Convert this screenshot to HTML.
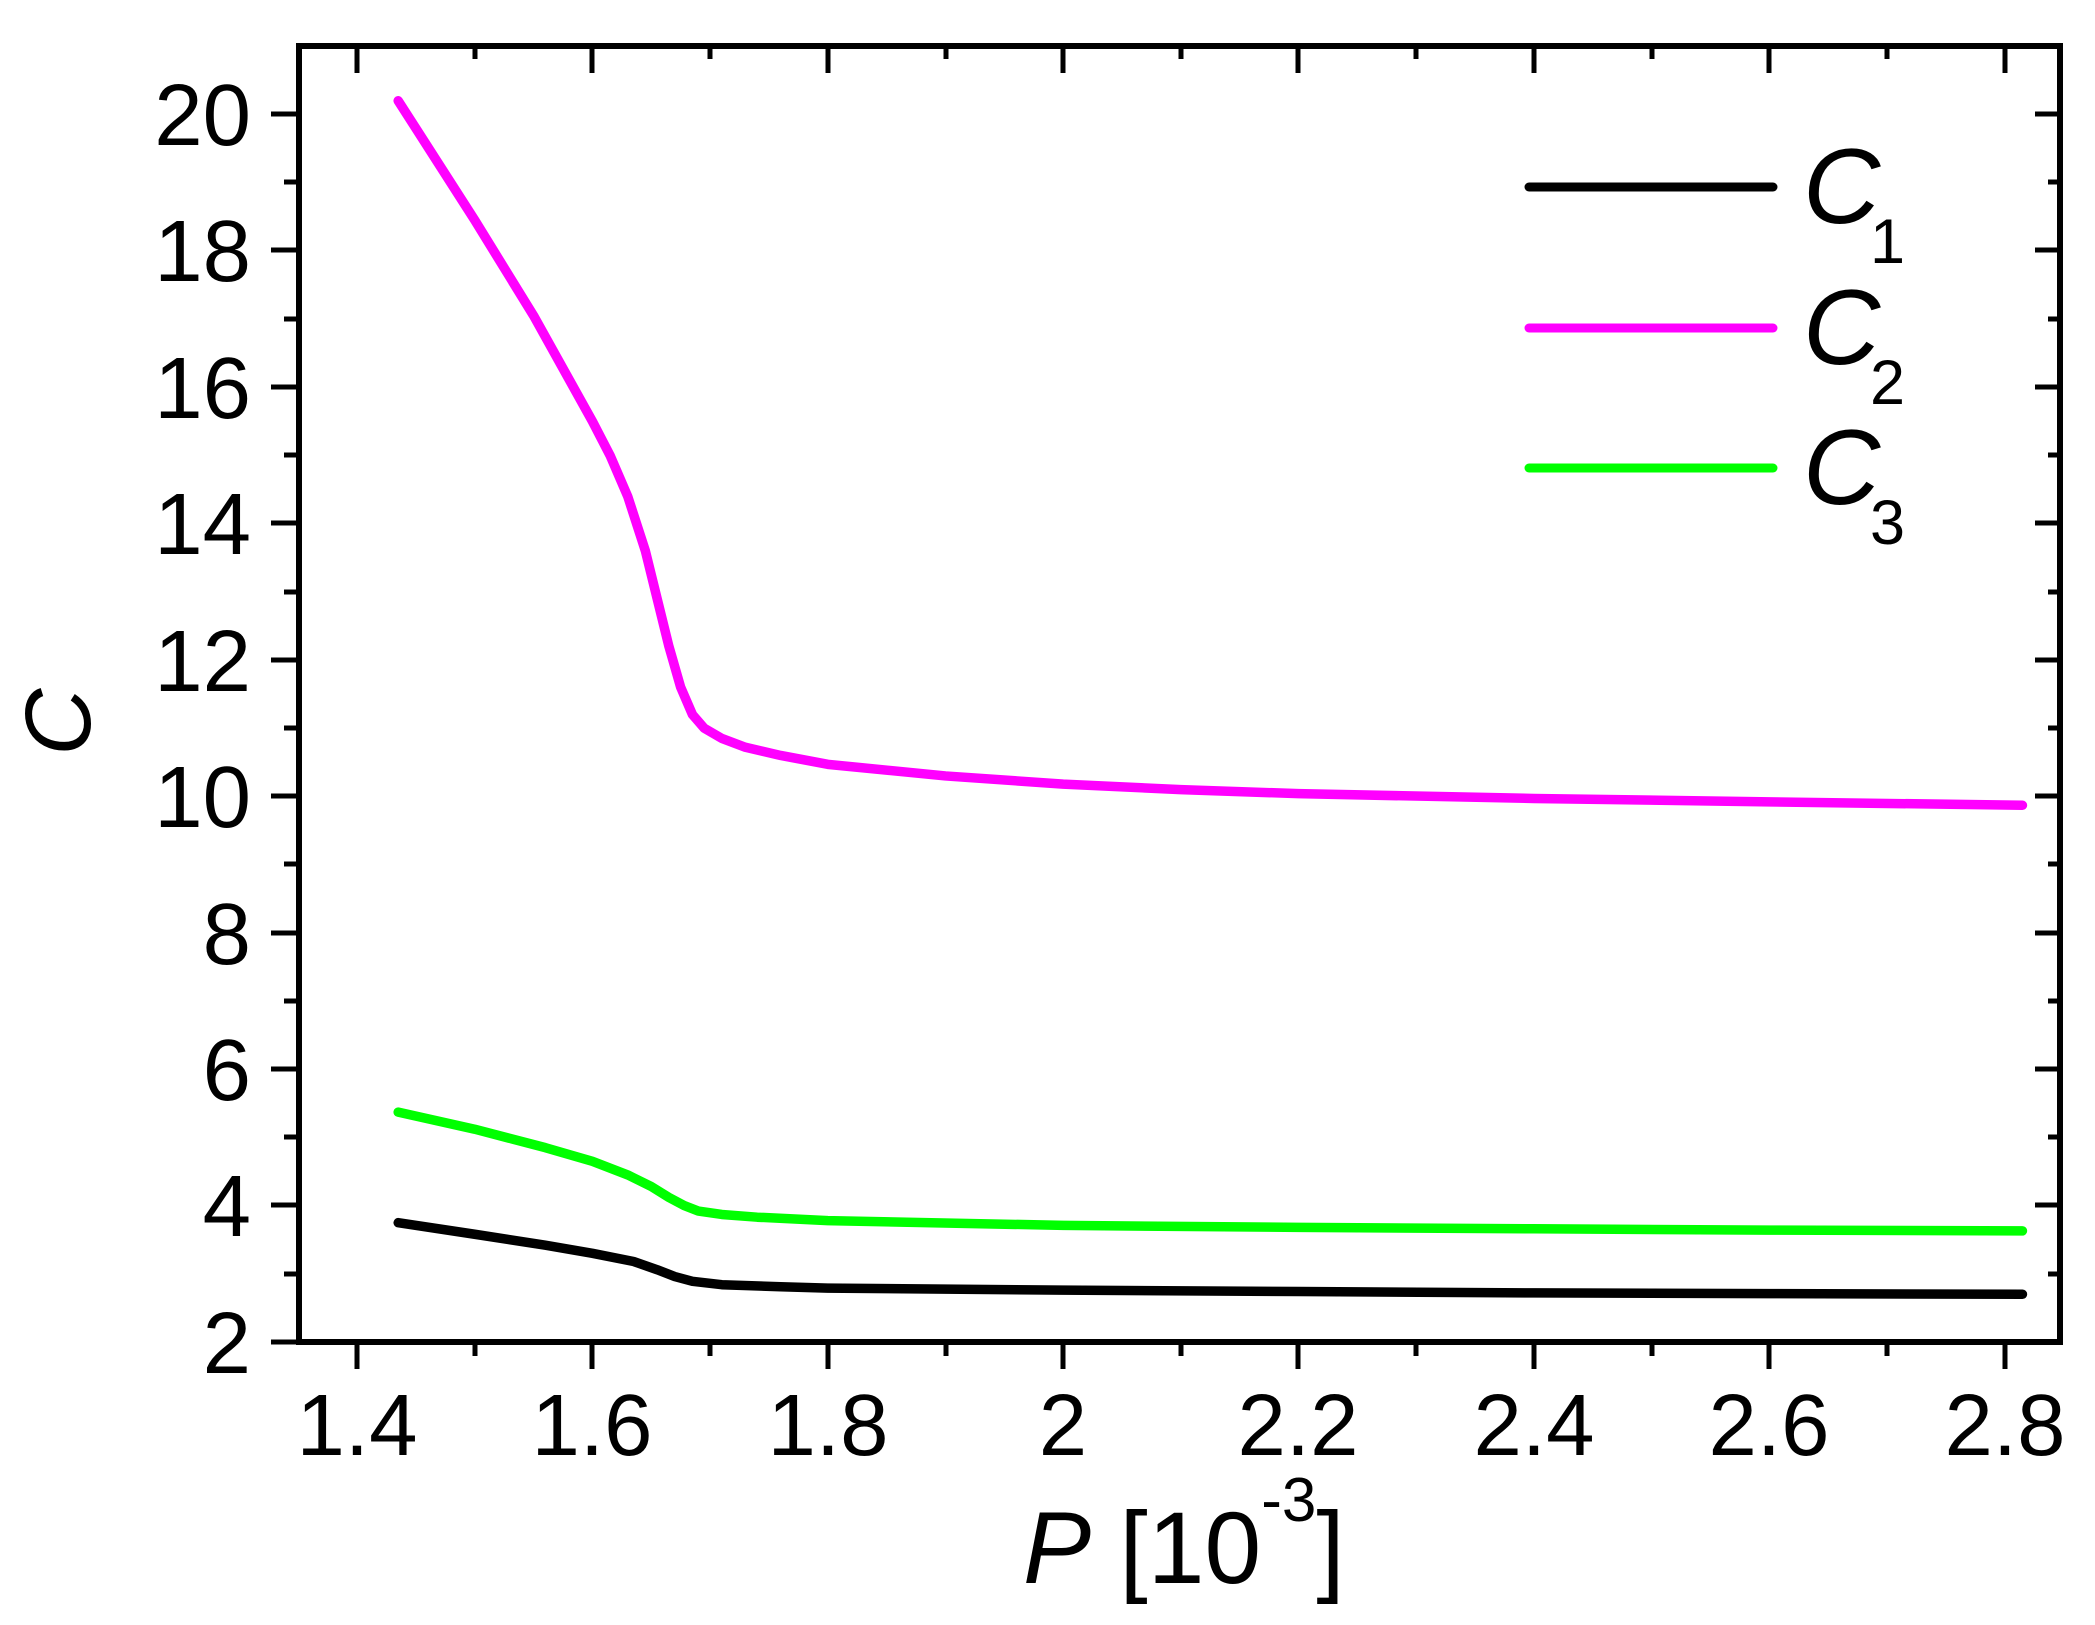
<!DOCTYPE html>
<html><head><meta charset="utf-8"><style>
html,body{margin:0;padding:0;background:#fff;}
svg{display:block;font-family:"Liberation Sans",Arial,sans-serif;}
</style></head><body>
<svg width="2095" height="1625" viewBox="0 0 2095 1625" xmlns="http://www.w3.org/2000/svg">
<rect width="2095" height="1625" fill="#fff"/>
<g transform="translate(357,1342) scale(1177,-68.2) translate(-1.4,-2)" fill="none" stroke-linejoin="round" stroke-linecap="round">
<polyline vector-effect="non-scaling-stroke" stroke="#ff00ff" stroke-width="9.5" points="1.435,20.2 1.5,18.45 1.55,17.05 1.6,15.5 1.615,15.0 1.63,14.4 1.645,13.6 1.655,12.9 1.665,12.2 1.675,11.6 1.685,11.2 1.695,11.0 1.71,10.85 1.73,10.72 1.76,10.6 1.8,10.47 1.9,10.3 2.0,10.18 2.1,10.1 2.2,10.04 2.4,9.97 2.6,9.92 2.815,9.87"/>
<polyline vector-effect="non-scaling-stroke" stroke="#00ff00" stroke-width="9.5" points="1.435,5.37 1.5,5.12 1.56,4.85 1.6,4.65 1.63,4.45 1.65,4.28 1.665,4.12 1.678,4.0 1.69,3.92 1.71,3.87 1.74,3.83 1.8,3.78 2.0,3.71 2.2,3.68 2.4,3.66 2.6,3.64 2.815,3.63"/>
<polyline vector-effect="non-scaling-stroke" stroke="#000" stroke-width="9.5" points="1.435,3.75 1.5,3.58 1.56,3.42 1.6,3.3 1.635,3.18 1.655,3.06 1.67,2.96 1.685,2.89 1.71,2.84 1.76,2.81 1.8,2.79 2.0,2.76 2.2,2.74 2.4,2.72 2.6,2.71 2.815,2.7"/>
</g>
<rect x="299" y="46" width="1761" height="1296" fill="none" stroke="#000" stroke-width="6"/>
<g stroke="#000" stroke-width="5">
<path d="M271,114H299M271,250H299M271,387H299M271,523H299M271,660H299M271,796H299M271,933H299M271,1069H299M271,1205H299M271,1342H299"/>
<path d="M284,182H299M284,319H299M284,455H299M284,592H299M284,728H299M284,864H299M284,1001H299M284,1137H299M284,1274H299"/>
<path d="M2035,114H2060M2035,250H2060M2035,387H2060M2035,523H2060M2035,660H2060M2035,796H2060M2035,933H2060M2035,1069H2060M2035,1205H2060"/>
<path d="M2048,182H2060M2048,319H2060M2048,455H2060M2048,592H2060M2048,728H2060M2048,864H2060M2048,1001H2060M2048,1137H2060M2048,1274H2060"/>
<path d="M357,1342V1369M592,1342V1369M828,1342V1369M1063,1342V1369M1298,1342V1369M1534,1342V1369M1769,1342V1369M2005,1342V1369"/>
<path d="M475,1342V1356M710,1342V1356M946,1342V1356M1181,1342V1356M1416,1342V1356M1652,1342V1356M1887,1342V1356"/>
<path d="M357,46V73M592,46V73M828,46V73M1063,46V73M1298,46V73M1534,46V73M1769,46V73M2005,46V73"/>
<path d="M475,46V59M710,46V59M946,46V59M1181,46V59M1416,46V59M1652,46V59M1887,46V59"/>
</g>
<g font-size="87" text-anchor="end" fill="#000">
<text x="251" y="145">20</text>
<text x="251" y="281">18</text>
<text x="251" y="418">16</text>
<text x="251" y="554">14</text>
<text x="251" y="691">12</text>
<text x="251" y="827">10</text>
<text x="251" y="964">8</text>
<text x="251" y="1100">6</text>
<text x="251" y="1236">4</text>
<text x="251" y="1373">2</text>
</g>
<g font-size="87" text-anchor="middle" fill="#000">
<text x="357" y="1455">1.4</text>
<text x="592" y="1455">1.6</text>
<text x="828" y="1455">1.8</text>
<text x="1063" y="1455">2</text>
<text x="1298" y="1455">2.2</text>
<text x="1534" y="1455">2.4</text>
<text x="1769" y="1455">2.6</text>
<text x="2005" y="1455">2.8</text>
</g>
<text x="1023" y="1583" font-size="102" fill="#000"><tspan font-style="italic">P</tspan> [10<tspan font-size="62" dy="-62">-3</tspan><tspan dy="62">]</tspan></text>
<text transform="translate(90,722) rotate(-90)" font-size="93" text-anchor="middle" font-style="italic" fill="#000">C</text>
<g stroke-width="9" stroke-linecap="round">
<line x1="1529" y1="187" x2="1773" y2="187" stroke="#000"/>
<line x1="1529" y1="328" x2="1773" y2="328" stroke="#ff00ff"/>
<line x1="1529" y1="468" x2="1773" y2="468" stroke="#00ff00"/>
</g>
<g fill="#000">
<text x="1803" y="223" font-size="107" font-style="italic">C</text><text x="1870" y="263" font-size="63">1</text>
<text x="1803" y="364" font-size="107" font-style="italic">C</text><text x="1870" y="404" font-size="63">2</text>
<text x="1803" y="504" font-size="107" font-style="italic">C</text><text x="1870" y="544" font-size="63">3</text>
</g>
</svg>
</body></html>
